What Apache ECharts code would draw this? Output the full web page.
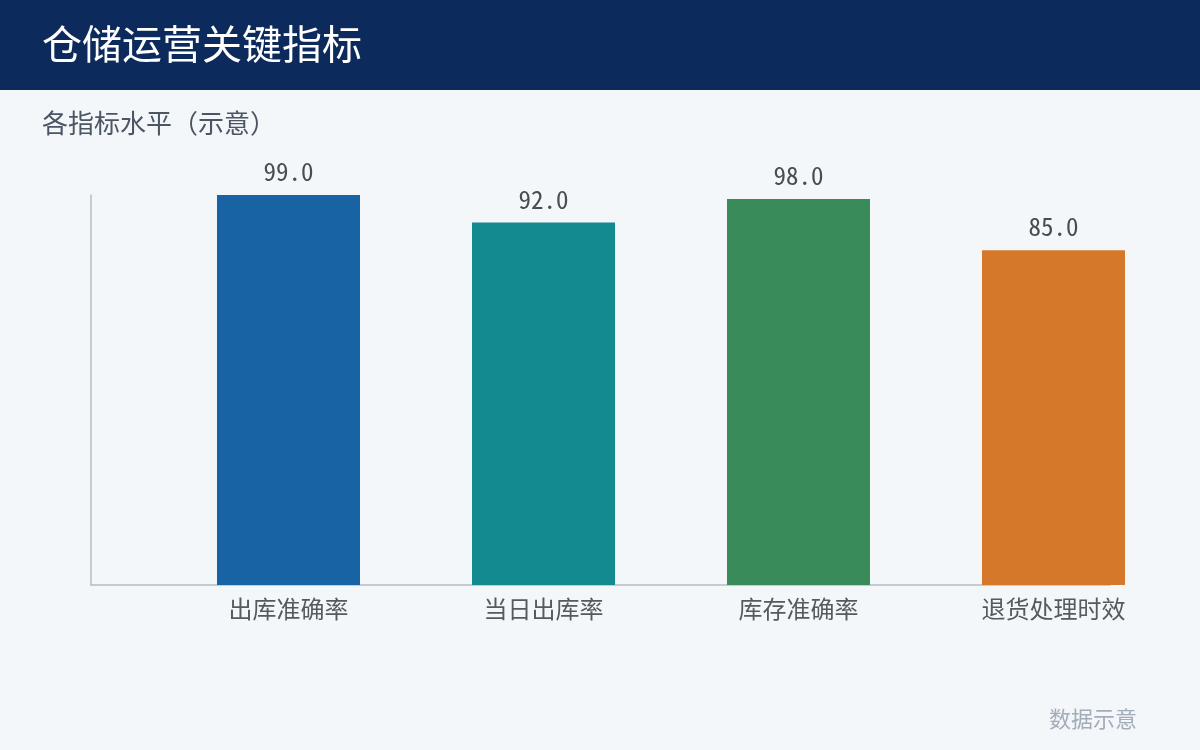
<!DOCTYPE html>
<html><head><meta charset="utf-8">
<script src="https://cdn.jsdelivr.net/npm/echarts@6/dist/echarts.min.js"></script>
<style>html,body{margin:0;padding:0;background:#f4f7fa}#c{width:1200px;height:750px}</style>
</head><body><div id="c"></div>
<script>
const categories = ['出库准确率', '当日出库率', '库存准确率', '退货处理时效'];
const values = [99.0, 92.0, 98.0, 85.0];
const barColors = ['#1763a3', '#138a8f', '#3a8b5a', '#d6782a'];
const titleText = '仓储运营关键指标';
const subtitleText = '各指标水平（示意）';
const footText = '数据示意';

const FONT = '"Noto Sans Mono CJK SC", "Noto Sans CJK SC", sans-serif';
const chart = echarts.init(document.getElementById('c'));
chart.setOption({
  backgroundColor: '#f4f7fa',
  animation: false,
  graphic: [
    { type: 'rect', left: 0, top: 0, shape: { width: 1200, height: 90 }, style: { fill: '#0d2a5c' }, z: 0 },
    { type: 'text', left: 42, top: 24, style: { text: titleText, fill: '#ffffff', font: '40px ' + FONT }, z: 2 },
    { type: 'text', left: 42, top: 110, style: { text: subtitleText, fill: '#4b5563', font: '26px ' + FONT }, z: 2 },
    { type: 'text', right: 63, top: 708, style: { text: footText, fill: '#a3adba', font: '22px ' + FONT }, z: 2 }
  ],
  grid: [
    { left: 91, right: 90, top: 195, bottom: 165 },
    { left: 161, right: 19, top: 195, bottom: 165 }
  ],
  xAxis: [
    { type: 'category', gridIndex: 0, data: categories, axisLine: { show: true, lineStyle: { color: '#b3bdc9', width: 1.5 } }, axisTick: { show: false }, axisLabel: { show: false } },
    { type: 'category', gridIndex: 1, data: categories, axisLine: { show: false }, axisTick: { show: false },
      axisLabel: { color: '#555a60', fontSize: 24, fontFamily: FONT, margin: 12 } }
  ],
  yAxis: [
    { type: 'value', gridIndex: 0, min: 0, max: 99, axisLine: { show: true, lineStyle: { color: '#b3bdc9', width: 1.5 } }, axisTick: { show: false }, axisLabel: { show: false }, splitLine: { show: false } },
    { type: 'value', gridIndex: 1, min: 0, max: 99, axisLine: { show: false }, axisTick: { show: false }, axisLabel: { show: false }, splitLine: { show: false } }
  ],
  series: [{
    type: 'bar', xAxisIndex: 1, yAxisIndex: 1, barWidth: 143, z: 3,
    data: values.map((v, i) => ({ value: v, itemStyle: { color: barColors[i] } })),
    label: { show: true, position: 'top', distance: 11, color: '#484d54', fontSize: 25, fontFamily: FONT,
      formatter: p => p.value.toFixed(1) }
  }]
});
</script></body></html>
